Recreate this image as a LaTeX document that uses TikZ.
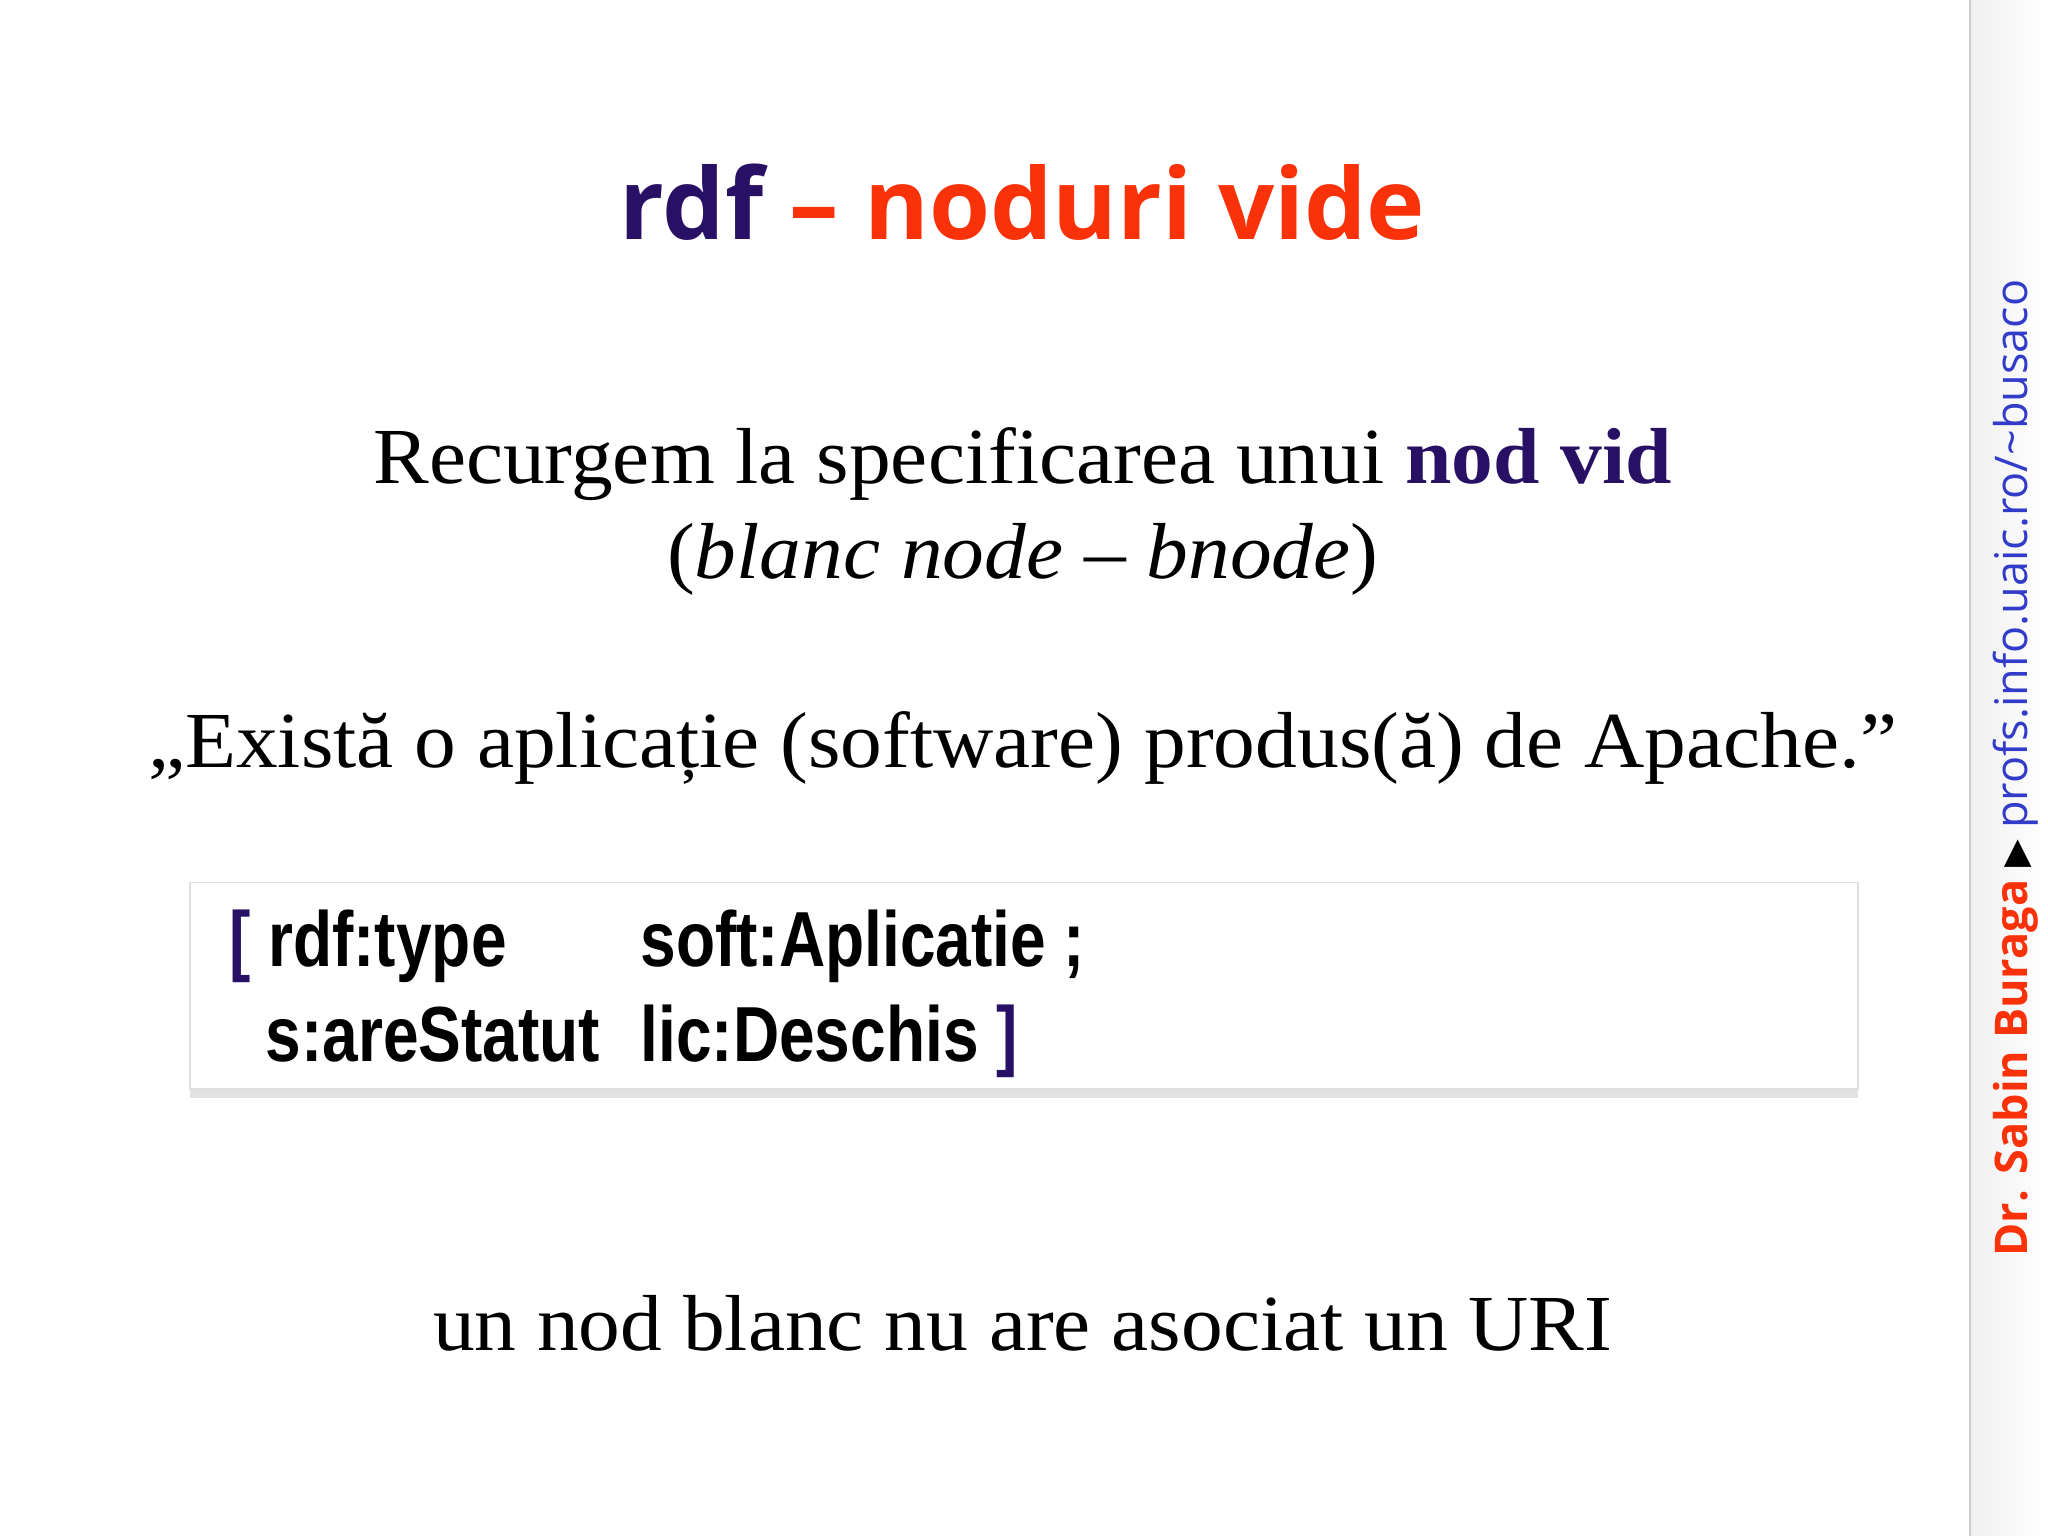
\documentclass[tikz,border=0pt]{standalone}
\usepackage{fontspec}
\setmainfont{Liberation Serif}[FakeStretch=1.05]
\newfontfamily\titlef{Open Sans}
\newfontfamily\dejaf{DejaVu Sans}
\newfontfamily\codef{Liberation Sans}[FakeStretch=0.82]
\usetikzlibrary{shadows}
\definecolor{dpurple}{RGB}{40,16,100}
\definecolor{orng}{RGB}{250,50,10}
\definecolor{blu}{RGB}{50,60,200}
\begin{document}
\begin{tikzpicture}[x=0.01cm,y=-0.01cm]
\useasboundingbox (0,0) rectangle (1568,1176);
\fill[white] (0,0) rectangle (1568,1176);
\shade[left color=gray!12,right color=white] (1508,0) rectangle (1568,1176);
\draw[gray!40] (1508,0) -- (1508,1176);
\node[font=\titlef\bfseries\fontsize{21.5}{26}\selectfont] (title) at (783,155) {\textcolor{dpurple}{rdf} \textcolor{orng}{– noduri vide}};
\node[font=\fontsize{17.3}{20}\selectfont] (t1a) at (783,355) {Recurgem la specificarea unui \textcolor{dpurple}{\bfseries nod vid}};
\node[font=\fontsize{17.3}{20}\selectfont] (t1b) at (783,428) {(\textit{blanc node} – \textit{bnode})};
\node[font=\fontsize{17.3}{20}\selectfont] (t2) at (783,573) {„Există o aplicație (software) produs(ă) de Apache.”};
\node[draw=gray!25,fill=white,drop shadow={shadow xshift=0pt,shadow yshift=-2pt,fill=gray!45},minimum width=1277*0.01cm,minimum height=158*0.01cm,anchor=north west] (box) at (145,675) {};
\begin{scope}[font=\codef\bfseries\fontsize{17}{20}\selectfont]
\node[anchor=base west] (b1) at (163,740) {\textcolor{dpurple}{[}};
\node[anchor=base west] (c1) at (193,740) {rdf:type};
\node[anchor=base west] (c2) at (478,740) {soft:Aplicatie ;};
\node[anchor=base west] (c3) at (191,813) {s:areStatut};
\node[anchor=base west] (c4) at (478,813) {lic:Deschis \textcolor{dpurple}{]}};
\end{scope}
\node[font=\fontsize{17.3}{20}\selectfont] (t3) at (783,1013) {un nod blanc nu are asociat un URI};
\node[rotate=90,font=\titlef\fontsize{9.8}{12}\selectfont] (side) at (1543,588) {\textcolor{orng}{\bfseries Dr. Sabin Buraga} {\dejaf\scalebox{0.8}{▶}} \textcolor{blu}{profs.info.uaic.ro/\textasciitilde busaco}};
\end{tikzpicture}
\end{document}
